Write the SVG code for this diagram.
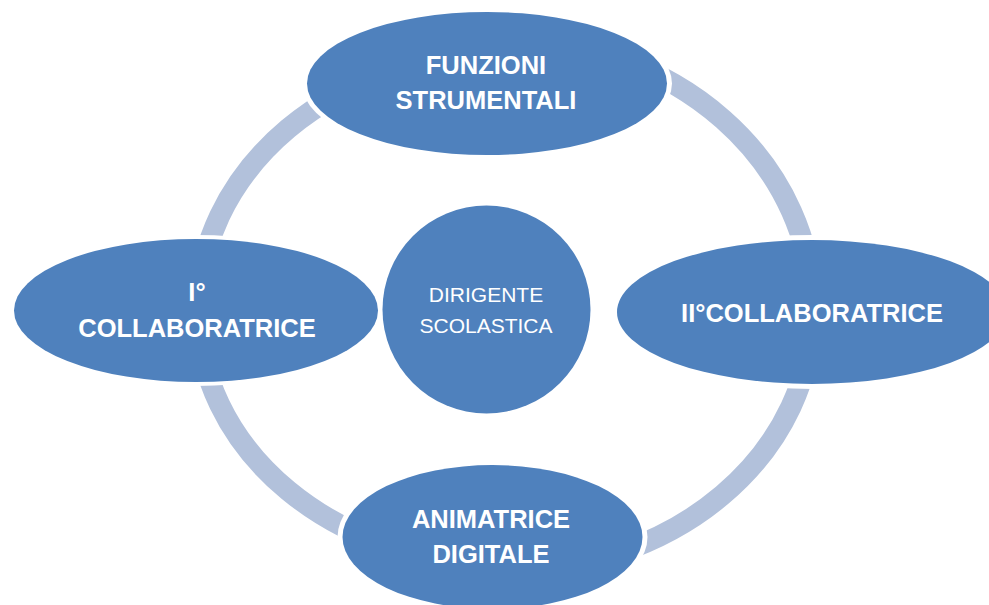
<svg xmlns="http://www.w3.org/2000/svg" width="989" height="605" viewBox="0 0 989 605">
<style>
.ring{fill:none;stroke:#B2C1DB;stroke-width:21}
.halo{fill:#FFFFFF}
.node{fill:#4F81BD}
.lbl{font-family:"Liberation Sans",Arial,sans-serif;font-weight:bold;font-size:25.5px;fill:#FFFFFF;text-anchor:middle}
.clbl{font-family:"Liberation Sans",Arial,sans-serif;font-size:21px;fill:#FFFFFF;text-anchor:middle}
</style>
<rect width="989" height="605" fill="#FFFFFF"/>
<g id="connectors">
<path class="ring" d="M 198 311 A 308 258 0 0 1 506 53"/>
<path class="ring" d="M 506 40 A 307 271 0 0 1 813 311"/>
<path class="ring" d="M 812.5 311 A 306.5 260 0 0 1 506 571"/>
<path class="ring" d="M 506 565 A 308 254 0 0 1 198 311"/>
</g>
<g id="node-center">
<circle class="halo" cx="486.5" cy="309.5" r="108"/>
<circle class="node" cx="486.5" cy="309.5" r="104"/>
<text class="clbl" x="486" y="302">DIRIGENTE</text>
<text class="clbl" x="486" y="333">SCOLASTICA</text>
</g>
<g id="node-top">
<ellipse class="halo" cx="487" cy="83.5" rx="185" ry="76.5"/>
<ellipse class="node" cx="487" cy="83.5" rx="180" ry="71.5"/>
<text class="lbl" x="486" y="74">FUNZIONI</text>
<text class="lbl" x="486" y="109">STRUMENTALI</text>
</g>
<g id="node-right">
<ellipse class="halo" cx="812" cy="312" rx="200" ry="77"/>
<ellipse class="node" cx="812" cy="312" rx="195" ry="72"/>
<text class="lbl" x="812" y="322">II°COLLABORATRICE</text>
</g>
<g id="node-bottom">
<ellipse class="halo" cx="492.5" cy="537" rx="155" ry="77"/>
<ellipse class="node" cx="492.5" cy="537" rx="150" ry="72"/>
<text class="lbl" x="491" y="528">ANIMATRICE</text>
<text class="lbl" x="491" y="563">DIGITALE</text>
</g>
<g id="node-left">
<ellipse class="halo" cx="196" cy="310.5" rx="186" ry="75.5"/>
<ellipse class="node" cx="196" cy="310.5" rx="182" ry="71.5"/>
<text class="lbl" x="197" y="301">I°</text>
<text class="lbl" x="197" y="337">COLLABORATRICE</text>
</g>
</svg>
